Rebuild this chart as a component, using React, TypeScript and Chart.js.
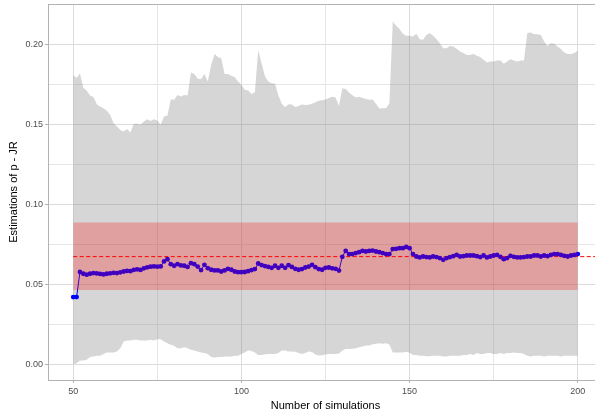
import React, { useEffect, useRef } from "react";
import { Chart, registerables } from "chart.js";

Chart.register(...registerables);

const X_START = 50;

const estimates = [
  0.0420, 0.0420, 0.0577, 0.0566, 0.0560, 0.0566, 0.0570, 0.0568, 0.0565, 0.0562,
  0.0566, 0.0569, 0.0572, 0.0570, 0.0575, 0.0580, 0.0584, 0.0582, 0.0590, 0.0594,
  0.0590, 0.0600, 0.0606, 0.0610, 0.0612, 0.0610, 0.0612, 0.0643, 0.0657, 0.0626,
  0.0616, 0.0626, 0.0618, 0.0616, 0.0609, 0.0632, 0.0626, 0.0611, 0.0589, 0.0622,
  0.0601, 0.0591, 0.0587, 0.0587, 0.0580, 0.0587, 0.0597, 0.0591, 0.0580, 0.0576,
  0.0576, 0.0577, 0.0582, 0.0589, 0.0595, 0.0630, 0.0620, 0.0614, 0.0609, 0.0603,
  0.0616, 0.0603, 0.0616, 0.0603, 0.0620, 0.0609, 0.0597, 0.0591, 0.0595, 0.0605,
  0.0611, 0.0622, 0.0607, 0.0595, 0.0591, 0.0603, 0.0605, 0.0600, 0.0597, 0.0586,
  0.0672, 0.0709, 0.0689, 0.0689, 0.0695, 0.0701, 0.0709, 0.0705, 0.0709, 0.0711,
  0.0705, 0.0701, 0.0695, 0.0689, 0.0689, 0.0720, 0.0722, 0.0726, 0.0726, 0.0734,
  0.0726, 0.0689, 0.0674, 0.0668, 0.0674, 0.0670, 0.0668, 0.0674, 0.0670, 0.0664,
  0.0653, 0.0664, 0.0670, 0.0676, 0.0684, 0.0674, 0.0676, 0.0680, 0.0680, 0.0680,
  0.0676, 0.0670, 0.0680, 0.0668, 0.0674, 0.0680, 0.0684, 0.0672, 0.0657, 0.0664,
  0.0678, 0.0672, 0.0668, 0.0668, 0.0670, 0.0674, 0.0674, 0.0680, 0.0680, 0.0674,
  0.0680, 0.0676, 0.0684, 0.0689, 0.0689, 0.0684, 0.0678, 0.0674, 0.0680, 0.0684,
  0.0689,
];

const upperBound = [
  0.1809, 0.1790, 0.1818, 0.1728, 0.1712, 0.1680, 0.1670, 0.1625, 0.1611, 0.1601,
  0.1585, 0.1559, 0.1507, 0.1486, 0.1465, 0.1455, 0.1470, 0.1449, 0.1503, 0.1503,
  0.1497, 0.1518, 0.1532, 0.1520, 0.1532, 0.1524, 0.1497, 0.1549, 0.1553, 0.1657,
  0.1653, 0.1684, 0.1674, 0.1684, 0.1680, 0.1824, 0.1815, 0.1785, 0.1782, 0.1815,
  0.1768, 0.1870, 0.1940, 0.1920, 0.1913, 0.1815, 0.1815, 0.1803, 0.1795, 0.1768,
  0.1747, 0.1716, 0.1711, 0.1690, 0.1700, 0.1965, 0.1880, 0.1800, 0.1768, 0.1757,
  0.1753, 0.1680, 0.1628, 0.1607, 0.1625, 0.1624, 0.1609, 0.1615, 0.1624, 0.1620,
  0.1622, 0.1628, 0.1638, 0.1647, 0.1651, 0.1655, 0.1665, 0.1672, 0.1668, 0.1615,
  0.1726, 0.1720, 0.1699, 0.1682, 0.1668, 0.1672, 0.1665, 0.1659, 0.1653, 0.1655,
  0.1628, 0.1599, 0.1601, 0.1601, 0.1630, 0.2143, 0.2116, 0.2095, 0.2066, 0.2053,
  0.2053, 0.2049, 0.2066, 0.2032, 0.2028, 0.2059, 0.2070, 0.2053, 0.2032, 0.2007,
  0.1976, 0.1976, 0.1990, 0.1986, 0.1972, 0.1955, 0.1945, 0.1934, 0.1934, 0.1940,
  0.1928, 0.1920, 0.1903, 0.1886, 0.1893, 0.1893, 0.1899, 0.1899, 0.1878, 0.1893,
  0.1907, 0.1899, 0.1893, 0.1899, 0.1899, 0.2070, 0.2074, 0.2063, 0.2063, 0.2059,
  0.2018, 0.1990, 0.2007, 0.2003, 0.1986, 0.1970, 0.1949, 0.1940, 0.1940, 0.1945,
  0.1961,
];

const lowerBound = [
  0.0001, 0.0007, 0.0024, 0.0024, 0.0028, 0.0045, 0.0049, 0.0053, 0.0053, 0.0065,
  0.0074, 0.0074, 0.0074, 0.0080, 0.0101, 0.0143, 0.0149, 0.0149, 0.0153, 0.0153,
  0.0149, 0.0149, 0.0149, 0.0153, 0.0149, 0.0157, 0.0157, 0.0143, 0.0132, 0.0122,
  0.0116, 0.0101, 0.0101, 0.0107, 0.0101, 0.0091, 0.0086, 0.0080, 0.0074, 0.0070,
  0.0065, 0.0045, 0.0043, 0.0045, 0.0045, 0.0049, 0.0049, 0.0049, 0.0053, 0.0053,
  0.0065, 0.0074, 0.0086, 0.0084, 0.0074, 0.0059, 0.0059, 0.0063, 0.0065, 0.0065,
  0.0065, 0.0070, 0.0086, 0.0086, 0.0080, 0.0080, 0.0078, 0.0070, 0.0065, 0.0070,
  0.0080, 0.0077, 0.0062, 0.0055, 0.0057, 0.0062, 0.0065, 0.0065, 0.0065, 0.0068,
  0.0086, 0.0095, 0.0095, 0.0098, 0.0101, 0.0106, 0.0111, 0.0118, 0.0117, 0.0125,
  0.0128, 0.0131, 0.0129, 0.0131, 0.0124, 0.0074, 0.0074, 0.0074, 0.0074, 0.0078,
  0.0072, 0.0059, 0.0059, 0.0053, 0.0053, 0.0051, 0.0051, 0.0053, 0.0053, 0.0053,
  0.0049, 0.0049, 0.0053, 0.0053, 0.0053, 0.0053, 0.0059, 0.0059, 0.0065, 0.0059,
  0.0070, 0.0065, 0.0065, 0.0070, 0.0070, 0.0065, 0.0065, 0.0070, 0.0065, 0.0070,
  0.0070, 0.0074, 0.0070, 0.0070, 0.0065, 0.0053, 0.0049, 0.0053, 0.0053, 0.0053,
  0.0049, 0.0053, 0.0053, 0.0053, 0.0053, 0.0049, 0.0053, 0.0053, 0.0053, 0.0053,
  0.0053,
];

const refValue = 0.0673;
const refBandLow = 0.0464;
const refBandHigh = 0.0886;
const refBandX = [50, 200];
const refLineX = [50, 207.5];

const xTicks = [50, 75, 100, 125, 150, 175, 200];
const xMajorTicks = [50, 100, 150, 200];
const yTicks = [0, 0.025, 0.05, 0.075, 0.1, 0.125, 0.15, 0.175, 0.2];
const yMajorTicks = [0, 0.05, 0.1, 0.15, 0.2];

const X_TITLE = "Number of simulations";
const Y_TITLE = "Estimations of p - JR";

const isIn = (list: number[], v: number) => list.some((m) => Math.abs(m - v) < 1e-9);

const FONT = "'Liberation Sans', Arial, sans-serif";

const topBorder = {
  id: "topBorder",
  beforeDatasetsDraw(chart: any) {
    const { ctx, chartArea } = chart;
    ctx.save();
    ctx.strokeStyle = "#b3b3b3";
    ctx.lineWidth = 1;
    ctx.beginPath();
    ctx.moveTo(chartArea.left, chartArea.top + 0.5);
    ctx.lineTo(chartArea.right, chartArea.top + 0.5);
    ctx.stroke();
    ctx.restore();
  },
};

export default function App() {
  const ref = useRef<HTMLCanvasElement | null>(null);

  useEffect(() => {
    if (!ref.current) return;
    const xs = estimates.map((_, i) => X_START + i);
    const toPts = (arr: number[]) => arr.map((y, i) => ({ x: xs[i], y }));

    const chart = new Chart(ref.current, {
      type: "line",
      data: {
        datasets: [
          {
            label: "upper",
            data: toPts(upperBound),
            borderWidth: 0,
            pointRadius: 0,
            fill: false,
            order: 10,
          },
          {
            label: "lower",
            data: toPts(lowerBound),
            borderWidth: 0,
            pointRadius: 0,
            fill: 0,
            backgroundColor: "rgba(128,128,128,0.32)",
            order: 9,
          },
          {
            label: "estimate",
            data: toPts(estimates),
            borderColor: "#0000ff",
            borderWidth: 1,
            pointRadius: 2.4,
            pointBorderWidth: 0,
            pointBackgroundColor: "#0000ff",
            fill: false,
            order: 5,
          },
          {
            label: "bandLow",
            data: refBandX.map((x) => ({ x, y: refBandLow })),
            borderWidth: 0,
            pointRadius: 0,
            fill: false,
            order: 4,
          },
          {
            label: "bandHigh",
            data: refBandX.map((x) => ({ x, y: refBandHigh })),
            borderWidth: 0,
            pointRadius: 0,
            fill: 3,
            backgroundColor: "rgba(255,0,0,0.25)",
            order: 3,
          },
          {
            label: "ref",
            data: refLineX.map((x) => ({ x, y: refValue })),
            borderColor: "#ff0000",
            borderWidth: 1,
            borderDash: [4, 2.5],
            pointRadius: 0,
            fill: false,
            order: 7,
          },
        ],
      },
      options: {
        responsive: false,
        animation: false,
        devicePixelRatio: 1,
        layout: { autoPadding: false, padding: { top: 4, left: 0, right: 0, bottom: 0 } },
        plugins: {
          legend: { display: false },
          tooltip: { enabled: false },
        },
        scales: {
          x: {
            type: "linear",
            min: 42.5,
            max: 207.5,
            afterBuildTicks: (s: any) => {
              s.ticks = xTicks.map((v) => ({ value: v }));
            },
            afterFit: (s: any) => {
              s.height = 35;
              s.paddingLeft = 0;
              s.paddingRight = 0;
              s.paddingTop = 0;
              s.paddingBottom = 0;
            },
            ticks: {
              autoSkip: false,
              maxRotation: 0,
              padding: 3,
              color: "#4d4d4d",
              font: { family: FONT, size: 9 },
              callback: (v: any) => (isIn(xMajorTicks, Number(v)) ? String(v) : ""),
            },
            grid: {
              color: (c: any) => (c.tick && isIn(xMajorTicks, c.tick.value) ? "#dcdcdc" : "#e6e6e6"),
              tickColor: (c: any) => (c.tick && isIn(xMajorTicks, c.tick.value) ? "#b3b3b3" : "rgba(0,0,0,0)"),
              tickLength: 3,
              lineWidth: 1,
            },
            border: { color: "#b3b3b3", width: 1 },
            title: {
              display: true,
              text: X_TITLE,
              color: "#000000",
              font: { family: FONT, size: 11 },
              padding: { top: 0, bottom: 2.4 },
            },
          },
          y: {
            type: "linear",
            min: -0.0098,
            max: 0.2252,
            afterBuildTicks: (s: any) => {
              s.ticks = yTicks.map((v) => ({ value: v }));
            },
            afterFit: (s: any) => {
              s.width = 48;
              s.paddingLeft = 0;
              s.paddingRight = 0;
              s.paddingTop = 0;
              s.paddingBottom = 0;
            },
            ticks: {
              autoSkip: false,
              padding: 2,
              color: "#4d4d4d",
              font: { family: FONT, size: 9 },
              callback: (v: any) => (isIn(yMajorTicks, Number(v)) ? Number(v).toFixed(2) : ""),
            },
            grid: {
              color: (c: any) => (c.tick && isIn(yMajorTicks, c.tick.value) ? "#dcdcdc" : "#e6e6e6"),
              tickColor: (c: any) => (c.tick && isIn(yMajorTicks, c.tick.value) ? "#b3b3b3" : "rgba(0,0,0,0)"),
              tickLength: 3,
              lineWidth: 1,
            },
            border: { color: "#b3b3b3", width: 1 },
            title: {
              display: true,
              text: Y_TITLE,
              color: "#000000",
              font: { family: FONT, size: 11 },
              padding: { top: 7, bottom: 0 },
            },
          },
        },
      },
      plugins: [topBorder],
    } as any);

    return () => chart.destroy();
  }, []);

  return (
    <div
      style={{
        position: "fixed",
        left: 0,
        top: 0,
        width: 595,
        height: 415,
        overflow: "hidden",
        background: "#ffffff",
      }}
    >
      <canvas ref={ref} width={603} height={415} style={{ width: 603, height: 415, display: "block" }} />
    </div>
  );
}
